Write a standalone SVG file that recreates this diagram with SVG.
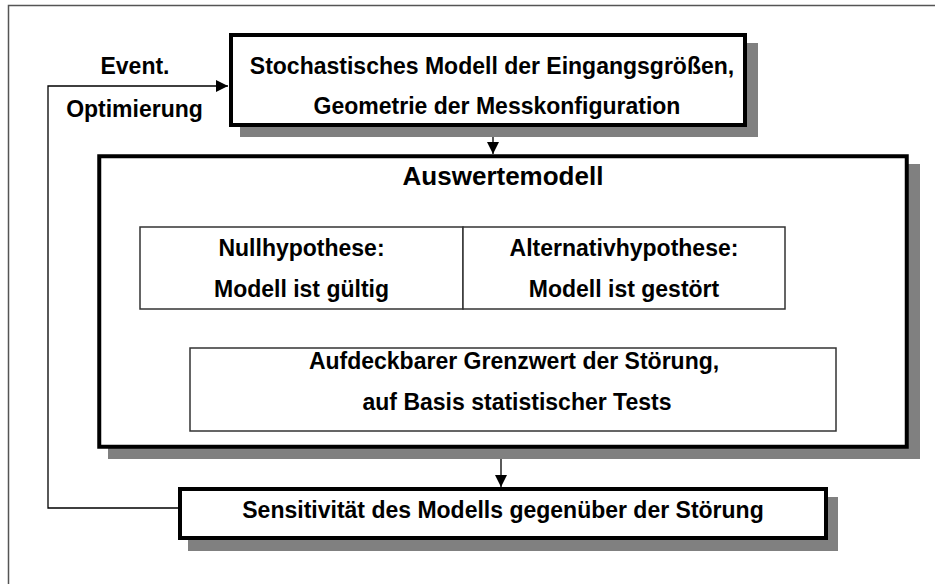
<svg xmlns="http://www.w3.org/2000/svg" width="935" height="584" viewBox="0 0 935 584">
<style>
text{font-family:"Liberation Sans",Arial,sans-serif;font-weight:bold;font-size:23px;fill:#000;text-anchor:middle}
.shadow{fill:#808080;stroke:none}
.thick{fill:#fff;stroke:#000;stroke-width:4}
.thin{fill:#fff;stroke:#333;stroke-width:1.5}
.conn{fill:none;stroke:#000;stroke-width:1.3}
</style>
<defs>
<marker id="ah" markerUnits="userSpaceOnUse" markerWidth="12" markerHeight="12" refX="12" refY="6" orient="auto">
<path d="M0,0 L12,6 L0,12 Z" fill="#000"/>
</marker>
</defs>
<rect x="0" y="0" width="935" height="584" fill="#fff"/>
<rect x="8.5" y="5.5" width="960" height="620" fill="none" stroke="#555" stroke-width="1.5"/>
<g id="connectors">
<path class="conn" d="M178,508 H48 V86 H228" marker-end="url(#ah)"/>
<path class="conn" d="M493,135 V154" marker-end="url(#ah)"/>
<path class="conn" d="M501,457 V487" marker-end="url(#ah)"/>
</g>
<g id="input">
<rect class="shadow" x="240" y="43" width="518" height="94"/>
<rect class="thick" x="231" y="35" width="514" height="90"/>
<text x="492" y="74">Stochastisches Modell der Eingangsgrößen,</text>
<text x="497" y="114">Geometrie der Messkonfiguration</text>
</g>
<g id="label-opt">
<text x="135" y="74">Event.</text>
<text x="134.5" y="117">Optimierung</text>
</g>
<g id="auswertemodell">
<rect class="shadow" x="108" y="164" width="812" height="295"/>
<rect class="thick" x="99.25" y="156.25" width="807.5" height="290.5" stroke-width="4.5"/>
<text x="503" y="185" style="font-size:26px">Auswertemodell</text>
</g>
<g id="nullhypothese">
<rect class="thin" x="140" y="227" width="323" height="82"/>
<text x="301.5" y="256">Nullhypothese:</text>
<text x="301.5" y="297">Modell ist gültig</text>
</g>
<g id="alternativhypothese">
<rect class="thin" x="463" y="227" width="322" height="82"/>
<text x="624" y="256">Alternativhypothese:</text>
<text x="624" y="297">Modell ist gestört</text>
</g>
<g id="grenzwert">
<rect class="thin" x="190" y="348" width="646" height="83"/>
<text x="514" y="369">Aufdeckbarer Grenzwert der Störung,</text>
<text x="517" y="410">auf Basis statistischer Tests</text>
</g>
<g id="sensitivitaet">
<rect class="shadow" x="188" y="497" width="650" height="54"/>
<rect class="thick" x="180" y="489" width="646" height="49"/>
<text x="503" y="518">Sensitivität des Modells gegenüber der Störung</text>
</g>
</svg>
